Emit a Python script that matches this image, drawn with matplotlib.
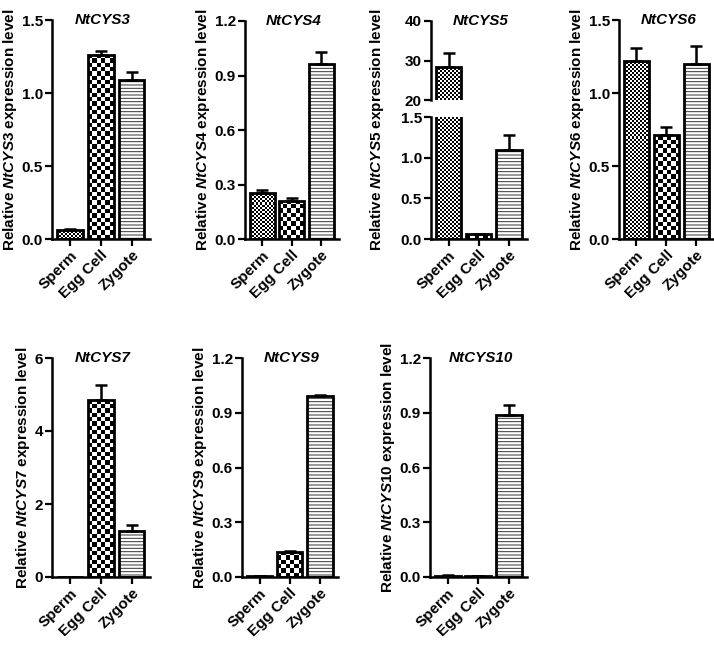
import numpy as np
import matplotlib.pyplot as plt

plt.rcParams['font.family'] = 'Liberation Sans'
plt.rcParams['font.weight'] = 'bold'
plt.rcParams['axes.labelweight'] = 'bold'
plt.rcParams['mathtext.fontset'] = 'custom'
plt.rcParams['mathtext.it'] = 'Liberation Sans:italic:bold'
plt.rcParams['mathtext.rm'] = 'Liberation Sans:bold'
plt.rcParams['hatch.linewidth'] = 0.7

cells = ['Sperm', 'Egg Cell', 'Zygote']

# values (mean, upper error)
cys3 = [0.065, 1.26, 1.09]
cys3_err = [0.005, 0.03, 0.055]
cys4 = [0.255, 0.21, 0.965]
cys4_err = [0.012, 0.015, 0.065]
cys5 = [28.3, 0.06, 1.09]
cys5_err = [3.5, 0.005, 0.19]
cys6 = [1.22, 0.71, 1.20]
cys6_err = [0.085, 0.06, 0.125]
cys7 = [0.0, 4.85, 1.27]
cys7_err = [0.0, 0.4, 0.16]
cys9 = [0.003, 0.135, 0.99]
cys9_err = [0.0, 0.005, 0.008]
cys10 = [0.007, 0.004, 0.89]
cys10_err = [0.002, 0.001, 0.055]

W, H = 714, 646
fig = plt.figure(figsize=(W / 100, H / 100), dpi=100)


def px_axes(l, r, t, b):
    return fig.add_axes([l / W, 1 - b / H, (r - l) / W, (b - t) / H])


def checker(ax, bar, cell):
    ylo, yhi = ax.get_ylim()
    xlo, xhi = ax.get_xlim()
    x0, x1 = bar.get_x(), bar.get_x() + bar.get_width()
    y0, y1 = max(0, ylo), min(bar.get_height(), yhi)
    if y1 <= y0:
        return
    p0 = ax.transData.transform((x0, y0))
    p1 = ax.transData.transform((x1, y1))
    nx = max(1, int(round((p1[0] - p0[0]) / cell)))
    ny = max(1, int(np.ceil((p1[1] - p0[1]) / cell)))
    arr = np.indices((ny, nx)).sum(axis=0) % 2
    y1c = y0 + (y1 - y0) * ny * cell / max(p1[1] - p0[1], 1e-9)
    im = ax.imshow(arr, cmap='gray', extent=(x0, x1, y1c, y0), interpolation='nearest',
                   aspect='auto', zorder=2, origin='upper')
    im.set_clip_path(bar)
    ax.set_xlim(xlo, xhi)
    ax.set_ylim(ylo, yhi)


def draw_bars(ax, vals, errs, ylim, yticks, yticklabels, show_x=True):
    x = np.arange(3)
    ax.set_xlim(-0.58, 2.6)
    ax.set_ylim(*ylim)
    bars = ax.bar(x, vals, width=0.84, color='white', edgecolor='none', zorder=1)
    checker(ax, bars[0], 2.0)
    checker(ax, bars[1], 4.3)
    ax.bar(x[2], vals[2], width=0.84, color='white', edgecolor='#333333', hatch='-----',
           lw=0, zorder=2)
    ax.bar(x, vals, width=0.84, fill=False, edgecolor='black', lw=2.0, zorder=3)
    ax.errorbar(x, vals, yerr=[np.zeros(3), errs], fmt='none', ecolor='black',
                elinewidth=1.8, capsize=4.5, capthick=1.8, zorder=4)
    ax.set_yticks(yticks)
    ax.set_yticklabels(yticklabels)
    for s in ['top', 'right']:
        ax.spines[s].set_visible(False)
    for s in ['left', 'bottom']:
        ax.spines[s].set_linewidth(1.8)
    ax.tick_params(direction='out', length=5, width=1.6, labelsize=11, pad=1.5)
    if show_x:
        ax.set_xticks(x)
        ax.set_xticklabels(cells, rotation=45, ha='right', rotation_mode='anchor')
    else:
        ax.set_xticks([])
        ax.spines['bottom'].set_visible(False)


def ylab(gene):
    return 'Relative $\\mathit{' + gene + '}$ expression level'


def title(ax, gene):
    ax.text(0.52, 1.0, gene, transform=ax.transAxes, ha='center', va='center',
            fontsize=11, fontstyle='italic', fontweight='bold')


panels = [
    ('NtCYS3', cys3, cys3_err, (0, 1.5), [0, 0.5, 1.0, 1.5], ['0.0', '0.5', '1.0', '1.5'], (52, 150, 20, 239)),
    ('NtCYS4', cys4, cys4_err, (0, 1.2), [0, 0.3, 0.6, 0.9, 1.2], ['0.0', '0.3', '0.6', '0.9', '1.2'], (245, 339, 21, 239)),
    ('NtCYS6', cys6, cys6_err, (0, 1.5), [0, 0.5, 1.0, 1.5], ['0.0', '0.5', '1.0', '1.5'], (619, 714, 20, 239)),
    ('NtCYS7', cys7, cys7_err, (0, 6), [0, 2, 4, 6], ['0', '2', '4', '6'], (52, 150, 358, 577)),
    ('NtCYS9', cys9, cys9_err, (0, 1.2), [0, 0.3, 0.6, 0.9, 1.2], ['0.0', '0.3', '0.6', '0.9', '1.2'], (242, 338, 358, 577)),
    ('NtCYS10', cys10, cys10_err, (0, 1.2), [0, 0.3, 0.6, 0.9, 1.2], ['0.0', '0.3', '0.6', '0.9', '1.2'], (430, 527, 358, 577)),
]

for gene, vals, errs, ylim, yt, ytl, (l, r, t, b) in panels:
    ax = px_axes(l, r, t, b)
    draw_bars(ax, vals, errs, ylim, yt, ytl)
    ax.set_ylabel(ylab(gene), fontsize=11, labelpad=2)
    title(ax, gene)

# broken axis panel for NtCYS5
ax_top = px_axes(431, 527, 21, 100)
draw_bars(ax_top, cys5, cys5_err, (20, 40), [20, 30, 40], ['20', '30', '40'], show_x=False)
title(ax_top, 'NtCYS5')
ax_bot = px_axes(431, 527, 117, 239)
draw_bars(ax_bot, cys5, cys5_err, (0, 1.5), [0, 0.5, 1.0, 1.5], ['0.0', '0.5', '1.0', '1.5'])
fig.text(377 / W, 1 - 130 / H, ylab('NtCYS5'), rotation=90, ha='center', va='center',
         fontsize=11, fontweight='bold')

fig.savefig('out.png', dpi=100)
